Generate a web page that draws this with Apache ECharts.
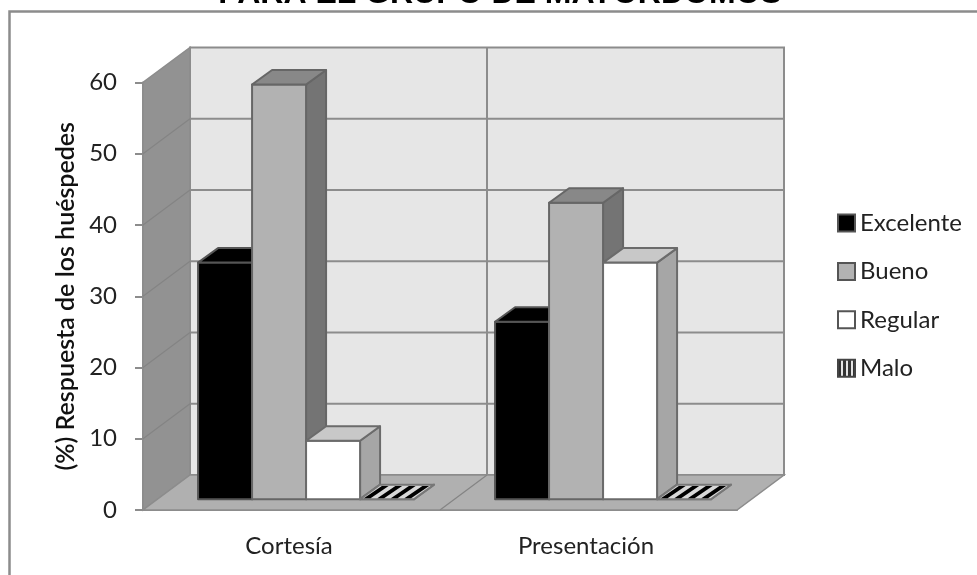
<!DOCTYPE html>
<html>
<head>
<meta charset="utf-8">
<style>html,body{margin:0;padding:0;background:#fff}#c{width:977px;height:575px}</style>
<script src="https://cdn.jsdelivr.net/npm/echarts@6/dist/echarts.min.js"></script>
</head>
<body>
<div id="c"></div>
<script>
// Encuesta de huéspedes: porcentaje de respuestas por categoría y calificación
const chartTitle = 'PARA EL GRUPO DE MAYORDOMOS';
const axisTitle = '(%) Respuesta de los huéspedes';
const categories = ['Cortesía', 'Presentación'];
const excelente = [33.2, 24.9];
const bueno = [58.2, 41.6];
const regular = [8.2, 33.2];
const malo = [0, 0];
const yTicks = [0, 10, 20, 30, 40, 50, 60];

const FONT = 'Lato, "Open Sans", sans-serif';
const GRID = '#8c8c8c';

// Profundidad de la caja 3D y de las barras, en píxeles de pantalla
const BOX = { dx: 47, dy: -35 };
const BAR = { inset: 0.31, dx: 20, dy: -14.5, width: 54 };

function wallsItem(params, api) {
  const band = api.size([1, 0])[0];
  const pt = (c, v, k) => {
    const p = api.coord([0, v]);
    return [p[0] + c * band + BOX.dx * k, p[1] + BOX.dy * k];
  };
  const L = -0.5, R = categories.length - 0.5, top = yTicks[yTicks.length - 1];
  const poly = (points, fill, stroke, w) => ({
    type: 'polygon', shape: { points },
    style: { fill: fill, stroke: stroke || 'none', lineWidth: w || 0 }
  });
  const line = (a, b, w, color) => ({
    type: 'line', shape: { x1: a[0], y1: a[1], x2: b[0], y2: b[1] },
    style: { stroke: color || GRID, lineWidth: w }
  });
  const children = [
    poly([pt(L, 0, 1), pt(R, 0, 1), pt(R, top, 1), pt(L, top, 1)], '#e6e6e6', GRID, 2),
    poly([pt(L, 0, 0), pt(L, 0, 1), pt(L, top, 1), pt(L, top, 0)], '#929292', GRID, 1.5),
    poly([pt(L, 0, 0), pt(R, 0, 0), pt(R, 0, 1), pt(L, 0, 1)], '#b0b0b0', GRID, 1.5)
  ];
  yTicks.slice(1, -1).forEach(v => {
    children.push(line(pt(L, v, 1), pt(R, v, 1), 2));
    children.push(line(pt(L, v, 0), pt(L, v, 1), 1.2, '#848484'));
  });
  // División entre categorías sobre la pared del fondo y el suelo
  for (let i = 1; i < categories.length; i++) {
    const c = L + i;
    children.push(line(pt(c, 0, 1), pt(c, top, 1), 2));
    children.push(line(pt(c, 0, 0), pt(c, 0, 1), 1.2, '#848484'));
  }
  return { type: 'group', children };
}

function barItem(slot, look) {
  return function (params, api) {
    const cat = api.value(0), val = api.value(1);
    const base = api.coord([cat, 0]), head = api.coord([cat, val]);
    const ox = BOX.dx * BAR.inset, oy = BOX.dy * BAR.inset;
    const x0 = base[0] + ox + (slot - 2) * BAR.width;
    const x1 = x0 + BAR.width;
    const yb = base[1] + oy, yt = head[1] + oy;
    const border = { stroke: look.stroke, lineWidth: 2, lineJoin: 'round' };
    const front = { type: 'polygon', shape: { points: [[x0, yb], [x1, yb], [x1, yt], [x0, yt]] },
      style: Object.assign({ fill: look.front }, border) };
    const side = { type: 'polygon', shape: { points: [[x1, yb], [x1 + BAR.dx, yb + BAR.dy], [x1 + BAR.dx, yt + BAR.dy], [x1, yt]] },
      style: Object.assign({ fill: look.side }, border) };
    const cap = { type: 'polygon', shape: { points: [[x0, yt], [x1, yt], [x1 + BAR.dx, yt + BAR.dy], [x0 + BAR.dx, yt + BAR.dy]] },
      style: Object.assign({ fill: look.top }, border) };
    const children = [side, front, cap];
    // La cara superior rayada de la serie sin respuestas
    if (look.stripes) {
      const n = look.stripes, step = BAR.width / n;
      for (let i = 0; i < n; i++) {
        const a = x0 + step * (i + 0.28), b = a + step * 0.5;
        children.push({ type: 'polygon', shape: { points: [
          [a, yt - 1], [b, yt - 1], [b + BAR.dx * 0.9, yt + BAR.dy * 0.9], [a + BAR.dx * 0.9, yt + BAR.dy * 0.9]
        ] }, style: { fill: '#000' } });
      }
    }
    return { type: 'group', children };
  };
}

function barSeries(name, values, slot, look) {
  return {
    name, type: 'custom', coordinateSystem: 'cartesian2d', z: 3 + slot, silent: true,
    itemStyle: { color: look.front },
    encode: { x: 0, y: 1 },
    data: values.map((v, i) => [i, v]),
    renderItem: barItem(slot, look)
  };
}

function stripeSwatch() {
  const cv = document.createElement('canvas');
  cv.width = 5; cv.height = 5;
  const g = cv.getContext('2d');
  g.fillStyle = '#e4e4e4'; g.fillRect(0, 0, 5, 5);
  g.fillStyle = '#333'; g.fillRect(0, 0, 3, 5);
  return cv;
}

const chart = echarts.init(document.getElementById('c'), null, { renderer: 'canvas' });
chart.setOption({
  animation: false,
  backgroundColor: '#fff',
  title: {
    text: chartTitle, left: 495, top: -27, textAlign: 'center',
    textStyle: { fontFamily: '"Liberation Sans", Arial, sans-serif', fontWeight: 'bold', fontSize: 32, color: '#000' }
  },
  graphic: [{
    type: 'rect', z: -1, silent: true, left: 7, top: 9,
    shape: { width: 1000, height: 600 },
    style: { fill: 'none', stroke: GRID, lineWidth: 2.5 }
  }],
  grid: { left: 143, top: 82.5, width: 594, height: 427.5 },
  legend: {
    orient: 'vertical', left: 832, top: 206, itemWidth: 17, itemHeight: 17, itemGap: 24.4, padding: 5,
    icon: 'rect', selectedMode: false,
    textStyle: { fontFamily: FONT, fontSize: 24, color: '#222' },
    data: [
      { name: 'Excelente', itemStyle: { color: '#000', borderColor: '#555', borderWidth: 2 } },
      { name: 'Bueno', itemStyle: { color: '#b2b2b2', borderColor: '#555', borderWidth: 2 } },
      { name: 'Regular', itemStyle: { color: '#fff', borderColor: '#555', borderWidth: 2 } },
      { name: 'Malo', itemStyle: { color: { image: stripeSwatch(), repeat: 'repeat' }, borderColor: '#444', borderWidth: 2 } }
    ]
  },
  xAxis: {
    type: 'category', data: categories,
    axisLine: { lineStyle: { color: GRID, width: 2 } },
    axisTick: { show: false },
    axisLabel: { fontFamily: FONT, fontSize: 24, color: '#222', margin: 24, padding: [0, 5, 0, 0] }
  },
  yAxis: {
    type: 'value', min: 0, max: 60, interval: 10,
    name: axisTitle, nameLocation: 'middle', nameRotate: 90, nameGap: 60,
    nameTextStyle: { fontFamily: FONT, fontSize: 25, fontWeight: 600, color: '#111' },
    axisLine: { show: true, lineStyle: { color: GRID, width: 2 } },
    axisTick: { show: true, length: 8, lineStyle: { color: GRID, width: 2 } },
    axisLabel: { fontFamily: FONT, fontSize: 24, color: '#222', margin: 26, padding: [3, 0, 0, 0] },
    splitLine: { show: false }
  },
  series: [
    { type: 'custom', name: 'caja', coordinateSystem: 'cartesian2d', z: 1, silent: true,
      data: [[0, 0]], encode: { x: 0, y: 1 }, renderItem: wallsItem },
    barSeries('Excelente', excelente, 0, { front: '#000', side: '#000', top: '#000', stroke: '#555' }),
    barSeries('Bueno', bueno, 1, { front: '#b2b2b2', side: '#747474', top: '#888', stroke: '#666' }),
    barSeries('Regular', regular, 2, { front: '#fff', side: '#a6a6a6', top: '#c8c8c8', stroke: '#6b6b6b' }),
    barSeries('Malo', malo, 3, { front: '#d8d8d8', side: '#d8d8d8', top: '#d8d8d8', stroke: '#777', stripes: 4 })
  ]
});
</script>
</body>
</html>
